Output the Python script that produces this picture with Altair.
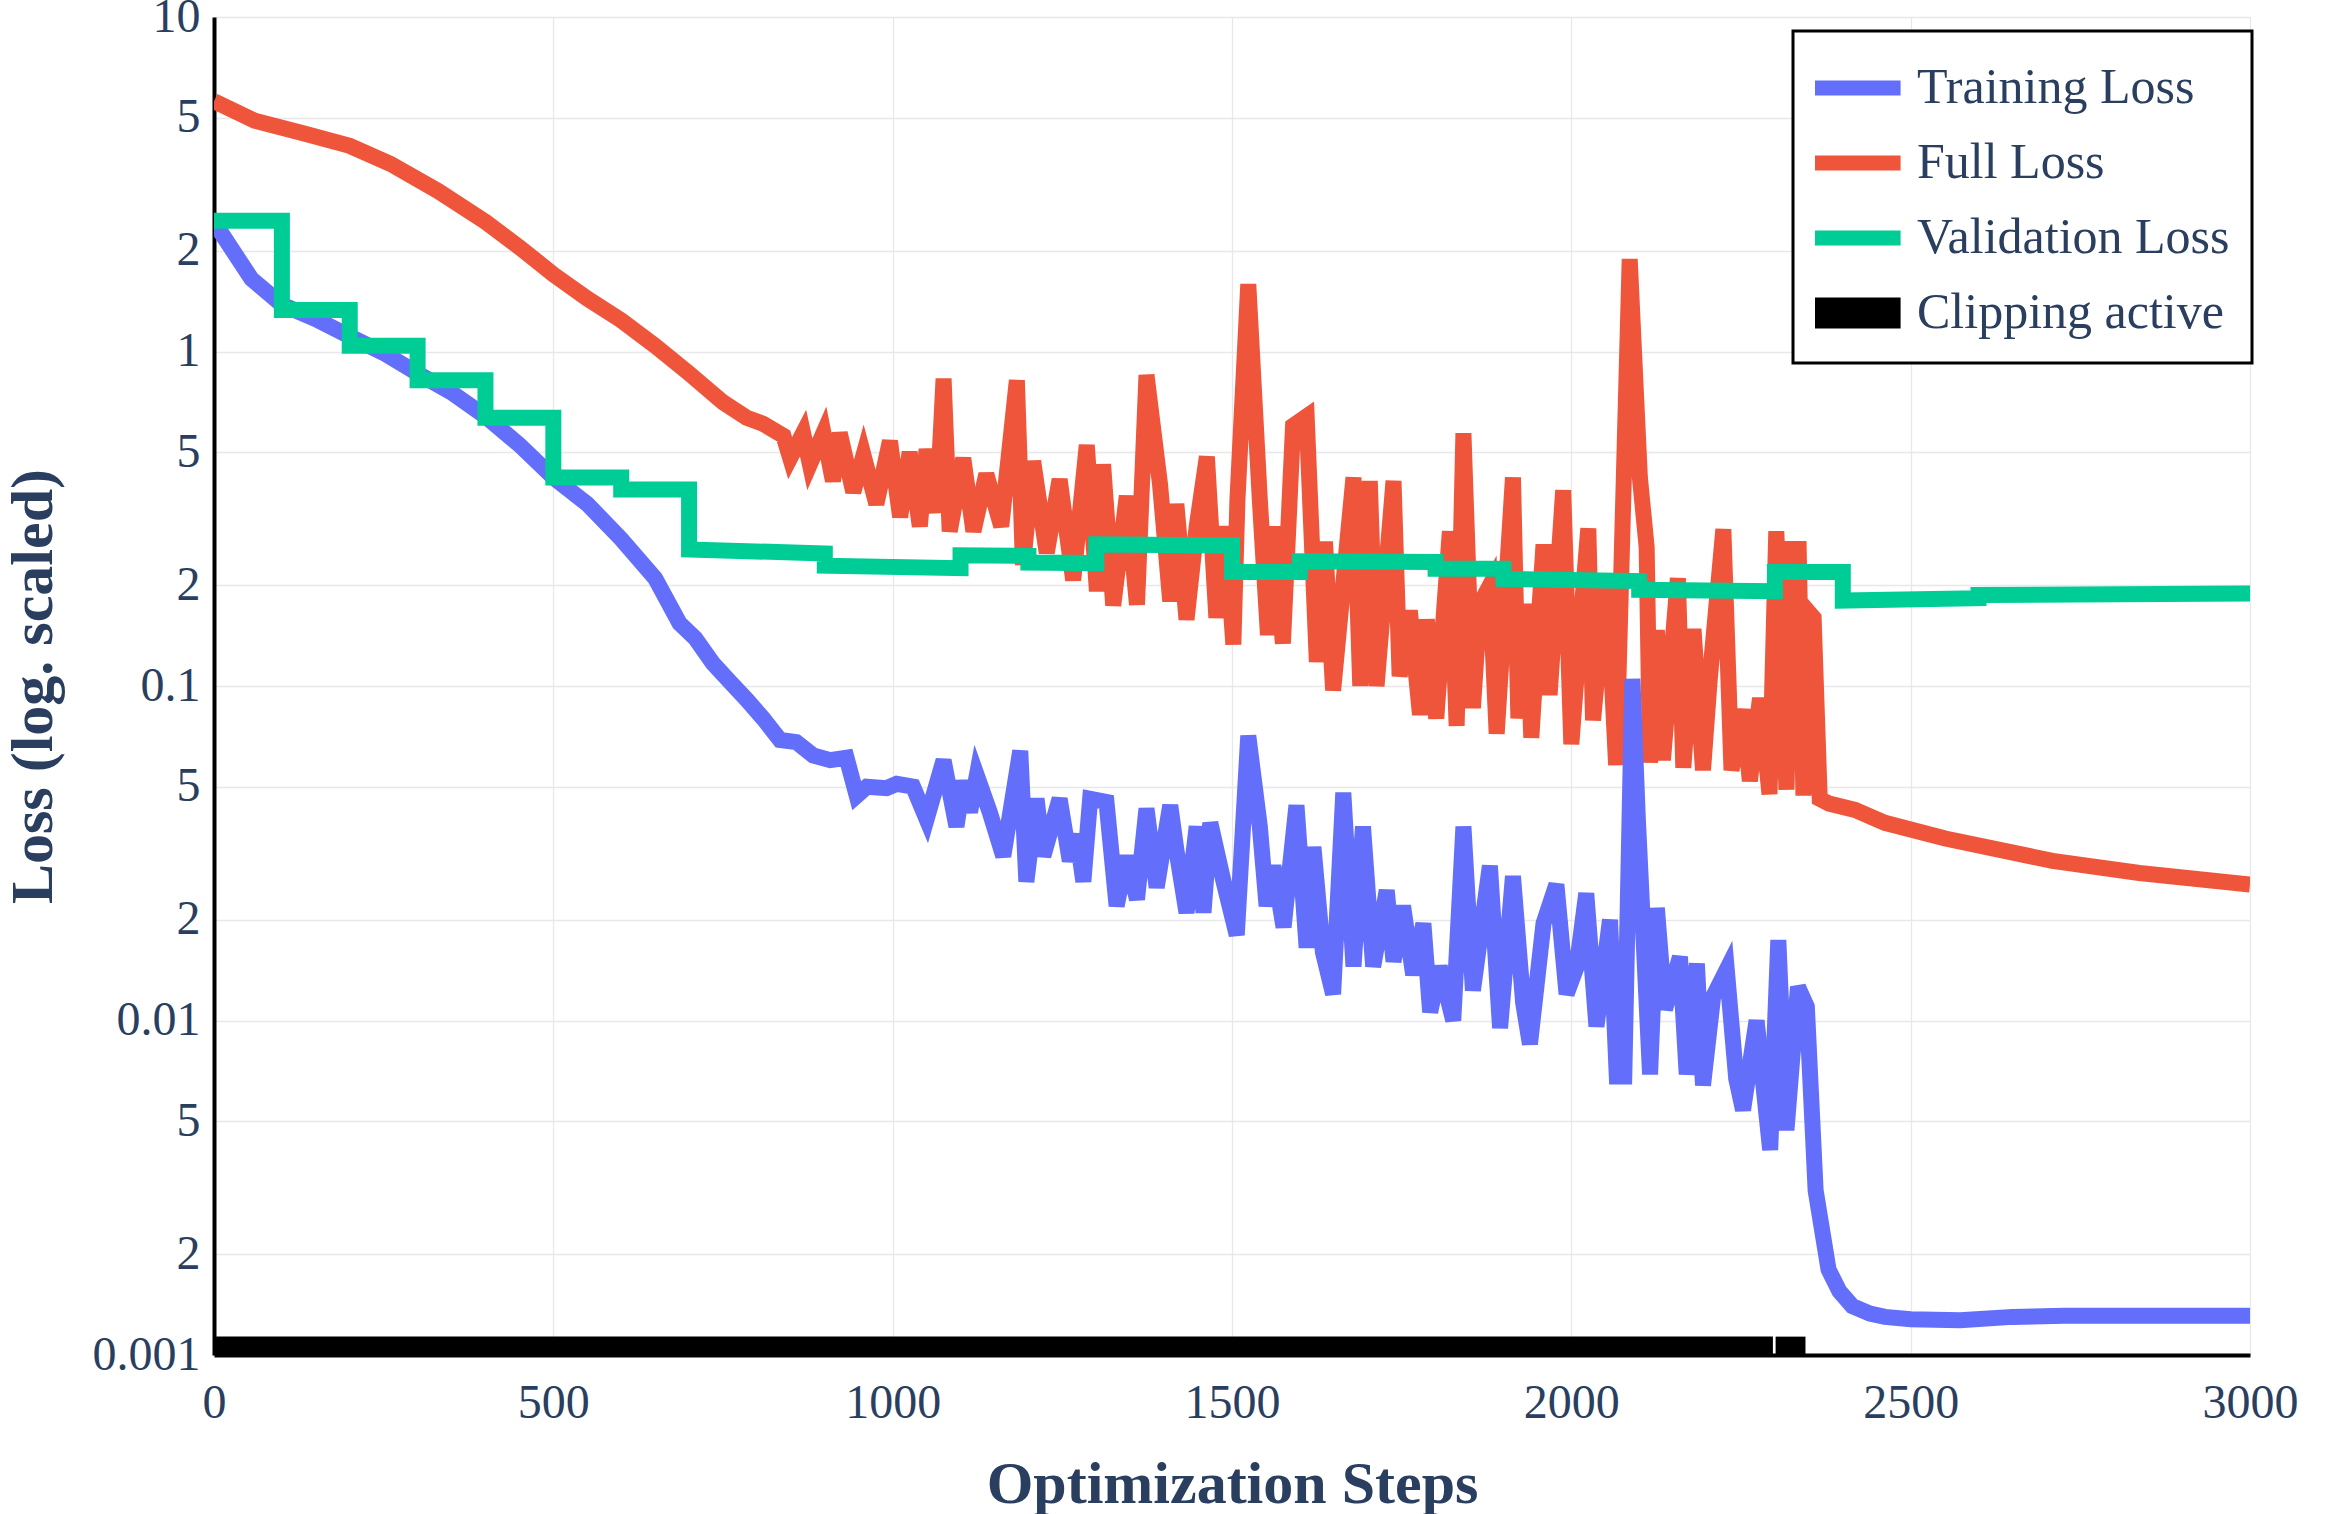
import altair as alt
import pandas as pd

# ---------------- data ----------------
series_names = ["Training Loss", "Full Loss", "Validation Loss", "Clipping active"]
series_colors = ["#636efa", "#ef553b", "#00cc96", "#000000"]
series_widths = [16, 16, 16, 31]

train_steps = [0, 55, 100, 150, 200, 250, 300, 350, 400, 450, 500, 550, 600, 650, 686, 709, 735, 760,
               785, 809, 834, 858, 883, 908, 932, 947, 962, 991, 1006, 1030, 1050, 1075, 1094, 1104,
               1114, 1124, 1143, 1163, 1188, 1197, 1212, 1222, 1246, 1261, 1271, 1281, 1291, 1315,
               1330, 1345, 1360, 1374, 1389, 1409, 1418, 1433, 1448, 1458, 1468, 1487, 1507, 1524,
               1541, 1551, 1561, 1576, 1595, 1610, 1620, 1634, 1649, 1664, 1679, 1693, 1708, 1728,
               1738, 1752, 1767, 1782, 1792, 1806, 1826, 1841, 1855, 1880, 1895, 1914, 1929, 1939,
               1959, 1978, 1993, 2008, 2022, 2037, 2057, 2067, 2078, 2090, 2098, 2116, 2126, 2138,
               2160, 2170, 2185, 2194, 2209, 2229, 2243, 2253, 2273, 2293, 2305, 2317, 2334, 2347,
               2360, 2379, 2395, 2414, 2440, 2462, 2500, 2573, 2650, 2727, 2850, 3000]
train_loss = [2.44, 1.65, 1.38, 1.25, 1.11, 0.99, 0.86, 0.754, 0.64, 0.526, 0.42, 0.35, 0.275, 0.21,
              0.154, 0.139, 0.117, 0.103, 0.091, 0.080, 0.069, 0.068, 0.062, 0.060, 0.061, 0.047,
              0.050, 0.0495, 0.051, 0.050, 0.040, 0.060, 0.038, 0.052, 0.042, 0.054, 0.042, 0.031,
              0.064, 0.026, 0.046, 0.031, 0.046, 0.030, 0.036, 0.026, 0.046, 0.045, 0.022, 0.031,
              0.023, 0.043, 0.025, 0.044, 0.0324, 0.021, 0.038, 0.021, 0.039, 0.0263, 0.018, 0.071,
              0.038, 0.022, 0.029, 0.019, 0.044, 0.0165, 0.033, 0.016, 0.012, 0.048, 0.0145, 0.038,
              0.0145, 0.0245, 0.015, 0.022, 0.0137, 0.0195, 0.0106, 0.0145, 0.010, 0.038, 0.0123,
              0.029, 0.0095, 0.027, 0.0113, 0.0085, 0.0195, 0.0255, 0.012, 0.0145, 0.024, 0.0096,
              0.020, 0.0068, 0.0068, 0.105, 0.04, 0.0069, 0.0217, 0.0108, 0.0155, 0.0069, 0.0148,
              0.0064, 0.0118, 0.0142, 0.0067, 0.0054, 0.010, 0.0041, 0.0174, 0.0047, 0.0126, 0.011,
              0.0031, 0.0018, 0.00155, 0.0014, 0.00133, 0.0013, 0.00128, 0.00127, 0.0013, 0.00131,
              0.00131, 0.00131]

full_steps = [0, 60, 130, 200, 260, 330, 400, 450, 500, 550, 600, 650, 700, 750, 785, 809, 839, 849,
              868, 878, 898, 912, 922, 942, 957, 976, 996, 1011, 1025, 1040, 1050, 1065, 1075, 1084,
              1104, 1119, 1138, 1160, 1183, 1192, 1207, 1227, 1246, 1266, 1286, 1301, 1310, 1325,
              1345, 1360, 1374, 1394, 1409, 1418, 1433, 1448, 1463, 1477, 1490, 1502, 1508, 1524,
              1541, 1553, 1561, 1575, 1590, 1610, 1625, 1637, 1649, 1679, 1689, 1703, 1713, 1738,
              1747, 1762, 1777, 1787, 1801, 1821, 1831, 1841, 1855, 1865, 1880, 1890, 1904, 1914,
              1922, 1934, 1941, 1959, 1968, 1988, 2000, 2012, 2025, 2032, 2052, 2066, 2086, 2101,
              2111, 2116, 2126, 2135, 2157, 2165, 2180, 2194, 2204, 2224, 2236, 2253, 2263, 2278,
              2292, 2302, 2317, 2325, 2335, 2342, 2348, 2357, 2366, 2380, 2418, 2462, 2551, 2709,
              2837, 3000]
full_loss = [5.6, 4.9, 4.5, 4.12, 3.64, 3.02, 2.44, 2.05, 1.70, 1.44, 1.24, 1.04, 0.86, 0.705, 0.634,
             0.608, 0.56, 0.48, 0.57, 0.46, 0.57, 0.41, 0.57, 0.38, 0.49, 0.35, 0.54, 0.32, 0.50,
             0.30, 0.51, 0.33, 0.83, 0.29, 0.48, 0.29, 0.43, 0.30, 0.82, 0.23, 0.47, 0.25, 0.415,
             0.207, 0.525, 0.192, 0.46, 0.174, 0.37, 0.175, 0.85, 0.40, 0.179, 0.35, 0.158, 0.30,
             0.485, 0.16, 0.30, 0.133, 0.36, 1.59, 0.36, 0.142, 0.30, 0.134, 0.60, 0.64, 0.118,
             0.27, 0.097, 0.42, 0.10, 0.41, 0.10, 0.41, 0.107, 0.168, 0.082, 0.158, 0.080, 0.29,
             0.076, 0.57, 0.086, 0.175, 0.20, 0.072, 0.20, 0.42, 0.080, 0.176, 0.070, 0.265, 0.094,
             0.385, 0.067, 0.14, 0.296, 0.079, 0.216, 0.058, 1.89, 0.42, 0.26, 0.059, 0.147, 0.060,
             0.21, 0.057, 0.148, 0.056, 0.105, 0.294, 0.056, 0.085, 0.052, 0.092, 0.0475, 0.29,
             0.049, 0.257, 0.257, 0.047, 0.168, 0.16, 0.046, 0.0445, 0.0426, 0.039, 0.035, 0.030,
             0.0276, 0.0255]

val_steps = [0, 100, 100, 200, 200, 300, 300, 400, 400, 500, 500, 600, 600, 700, 700, 900, 900, 1100,
             1100, 1200, 1200, 1300, 1300, 1500, 1500, 1600, 1600, 1800, 1800, 1900, 1900, 2100,
             2100, 2300, 2300, 2400, 2400, 2600, 2600, 3000]
val_loss = [2.46, 2.46, 1.33, 1.33, 1.04, 1.04, 0.82, 0.82, 0.634, 0.634, 0.42, 0.42, 0.387, 0.387,
            0.256, 0.249, 0.229, 0.225, 0.246, 0.245, 0.234, 0.233, 0.265, 0.263, 0.219, 0.219,
            0.236, 0.235, 0.224, 0.224, 0.209, 0.206, 0.194, 0.192, 0.219, 0.219, 0.180, 0.183,
            0.187, 0.189]

clip_start = [0, 2301]
clip_end = [2297, 2345]
clip_level = 0.00102

x_ticks = [0, 500, 1000, 1500, 2000, 2500, 3000]
y_ticks = [0.001, 0.002, 0.005, 0.01, 0.02, 0.05, 0.1, 0.2, 0.5, 1, 2, 5, 10]

# ---------------- table ----------------
rows = []
for name, xs, ys in [("Training Loss", train_steps, train_loss),
                     ("Full Loss", full_steps, full_loss),
                     ("Validation Loss", val_steps, val_loss)]:
    for i, (s, v) in enumerate(zip(xs, ys)):
        rows.append({"step": s, "loss": v, "series": name, "idx": i, "seg": 0})
for k, (a, b) in enumerate(zip(clip_start, clip_end)):
    rows.append({"step": a, "loss": clip_level, "series": "Clipping active", "idx": 2 * k, "seg": k})
    rows.append({"step": b, "loss": clip_level, "series": "Clipping active", "idx": 2 * k + 1, "seg": k})
df = pd.DataFrame(rows)

FONT = "Liberation Serif"
TXT = "#2a3f5f"
GRID = "#e6e8ec"

legend = alt.Legend(
    title=" ", titleFontSize=1, titlePadding=6,
    orient="none", legendX=1579, legendY=14,
    symbolType="M-1,0H9", symbolSize=353.4,
    symbolStrokeWidth=alt.ExprRef(expr="datum.label === 'Clipping active' ? 31 : 15"),
    symbolFillColor="transparent", symbolOffset=-24,
    clipHeight=56,
    labelFont=FONT, labelFontSize=50, labelColor=TXT, labelLimit=0, labelOffset=76,
    rowPadding=19, padding=22,
    fillColor="white", strokeColor="black",
)

x_enc = alt.X("step:Q",
              scale=alt.Scale(domain=[0, 3000], nice=False, zero=False),
              axis=alt.Axis(values=x_ticks, format="d", title="Optimization Steps",
                            titleFont=FONT, titleFontSize=60, titleFontWeight="bold", titleColor=TXT,
                            titleY=147, titleBaseline="alphabetic",
                            labelFont=FONT, labelFontSize=48, labelColor=TXT, labelPadding=24,
                            ticks=False, tickSize=0, domainColor="black", domainWidth=4,
                            grid=True, gridColor=GRID, gridWidth=1.3,
                            labelFlush=False, labelOverlap=False))
y_enc = alt.Y("loss:Q",
              scale=alt.Scale(type="log", domain=[0.001, 10], nice=False),
              axis=alt.Axis(values=y_ticks, title="Loss (log. scaled)",
                            labelExpr="(abs(log(datum.value)/LN10 - round(log(datum.value)/LN10)) < 0.001) ? ('' + datum.value) : ('' + round(datum.value / pow(10, floor(log(datum.value)/LN10 + 1e-9))))",
                            titleFont=FONT, titleFontSize=60, titleFontWeight="bold", titleColor=TXT,
                            titleX=-181, titleY=669, titleAngle=270, titleAlign="center",
                            titleBaseline="middle",
                            labelFont=FONT, labelFontSize=48, labelColor=TXT, labelPadding=14,
                            ticks=False, tickSize=0, domainColor="black", domainWidth=4,
                            grid=True, gridColor=GRID, gridWidth=1.3,
                            labelFlush=False, labelOverlap=False))
color_enc = alt.Color("series:N", scale=alt.Scale(domain=series_names, range=series_colors), legend=legend)

base = alt.Chart(df)
layers = []
for name in ["Full Loss", "Training Loss", "Validation Loss", "Clipping active"]:
    lw = series_widths[series_names.index(name)]
    layers.append(
        base.transform_filter(alt.datum.series == name)
        .mark_line(clip=True, strokeCap="butt", strokeJoin="miter", strokeWidth=lw)
        .encode(x=x_enc, y=y_enc, color=color_enc,
                order=alt.Order("idx:Q"), detail="seg:N")
    )

chart = (
    alt.layer(*layers)
    .properties(width=2036, height=1338,
                autosize=alt.AutoSizeParams(type="none"),
                padding={"left": 214, "top": 17, "right": 96, "bottom": 159},
                background="white")
    .configure_view(strokeWidth=0)
    .configure_legend(strokeWidth=3)
)

chart.save("out.html", embed_options={"renderer": "svg", "actions": False})
